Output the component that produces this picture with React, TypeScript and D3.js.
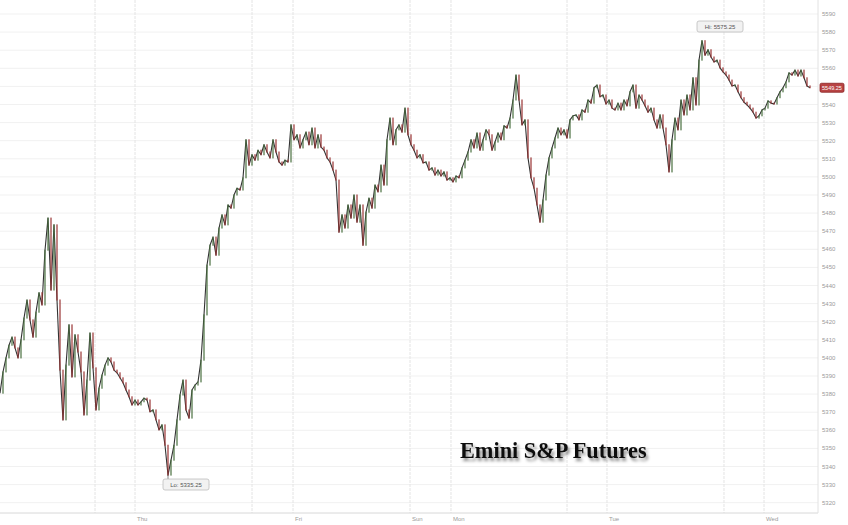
import React from "react";
import * as d3 from "d3";

// Emini S&P futures, ~30-minute closes
const closes: number[] = [
  5380.5, 5392.25, 5400, 5407, 5411.5, 5405.5, 5400, 5410, 5422, 5432,
  5421, 5411.5, 5425.25, 5436, 5429.25, 5459.5, 5477.25, 5437.5, 5473.5, 5432,
  5393.25, 5365.75, 5396, 5418.25, 5389.5, 5412.75, 5403.25, 5392.25, 5368.5, 5387.75,
  5413.75, 5394.5, 5371.25, 5383.25, 5390.5, 5396, 5400, 5397.75, 5393.25, 5391.75,
  5389, 5386.25, 5382.25, 5378.5, 5374, 5376.75, 5374, 5375.75, 5377.75, 5376.75,
  5370.25, 5371.25, 5365.75, 5360.25, 5363, 5351.75, 5335.25, 5343.5, 5351.75, 5365.75,
  5379.5, 5387.75, 5371.25, 5366.75, 5382.25, 5385, 5386.75, 5398.75, 5423.75, 5451.25,
  5462.25, 5466.75, 5456.75, 5471.75, 5479, 5473.5, 5484.5, 5482.75, 5490, 5493.75,
  5492.75, 5499.5, 5520.5, 5506.5, 5512.25, 5509.25, 5514.75, 5512.25, 5517.75, 5513.75,
  5510.5, 5520.5, 5513.75, 5508.25, 5506.5, 5509.25, 5508.25, 5528.75, 5520.5, 5523.25,
  5516, 5520.5, 5524.75, 5517.75, 5527, 5516, 5523.25, 5516.5, 5514.75, 5510.5,
  5508.25, 5503.75, 5498.25, 5469.5, 5479, 5471.75, 5484.5, 5477.25, 5490, 5475,
  5484.5, 5462.25, 5480.5, 5488.25, 5482.75, 5495.5, 5491.75, 5506.5, 5495.5, 5520.5,
  5532.5, 5517.75, 5526, 5528.75, 5524.75, 5538, 5523.25, 5517.75, 5514.75, 5510.5,
  5512.25, 5507.75, 5508.25, 5503.75, 5505, 5501, 5503.75, 5500.5, 5502.75, 5498.25,
  5499.5, 5497.25, 5500.5, 5499.5, 5505, 5509.25, 5513.75, 5520.5, 5516, 5524.25,
  5514.75, 5520.5, 5526, 5523.25, 5514.75, 5519.25, 5524.25, 5520.5, 5528.25, 5527,
  5532.5, 5542.5, 5556.25, 5542.5, 5528.75, 5531.5, 5510.5, 5499.5, 5493.75, 5484.5,
  5475, 5487.25, 5501, 5510.5, 5516, 5521.5, 5527, 5523.25, 5526, 5521.5,
  5531.5, 5533.75, 5534.25, 5531.5, 5537, 5535.75, 5542.5, 5540.75, 5549.25, 5550.75,
  5544.25, 5545.25, 5540.25, 5542.5, 5538, 5537, 5540.75, 5537, 5542.5, 5539.25,
  5547, 5550.75, 5538, 5545.25, 5542.5, 5539.25, 5535.75, 5538, 5531.5, 5527,
  5534.25, 5527, 5517.75, 5502.75, 5520.5, 5532.5, 5526, 5542.5, 5534.25, 5545.25,
  5537, 5554.75, 5539.75, 5564.5, 5575.25, 5567.25, 5570.25, 5566.25, 5563.5, 5564.5,
  5560.25, 5558, 5556.25, 5553.5, 5550.25, 5550.75, 5547, 5543.75, 5541.25, 5539.75,
  5538, 5535.75, 5532.5, 5533.75, 5537, 5538, 5542, 5540.75, 5540.25, 5543.75,
  5547, 5549.25, 5552.5, 5557.5, 5556.25, 5559, 5555.75, 5559, 5554.75, 5550.25,
  5549.25,
];

// Session boundaries (bar index) and day labels
const sessionOpens: number[] = [31.67, 84, 136.67, 189, 241.33];
const dayStarts: number[] = [45, 97.67, 150.33, 202.33, 254.67];
const dayLabelPos: number[] = [45, 97.67, 136.67, 150.33, 202.33, 254.67];
const dayLabels: string[] = ["Thu", "Fri", "Sun", "Mon", "Tue", "Wed"];

const yTicks: number[] = d3.range(5320, 5591, 10);
const hiValue = 5575.25;
const loValue = 5335.25;
const lastLabel = "5549.25";

const W = 848;
const H = 525;
const UP = "#4a7040";
const DOWN = "#9a3434";

export default function App() {
  const x = d3.scaleLinear().domain([0, closes.length - 1]).range([0, 810]);
  const y = d3.scaleLinear().domain([5320, 5590]).range([502.7, 14]);
  const axisX = 818;
  const axisY = 513;

  const hiIdx = closes.indexOf(d3.max(closes) as number);
  const loIdx = closes.indexOf(d3.min(closes) as number);
  const last = closes[closes.length - 1];

  const line = d3
    .line<number>()
    .x((_, i) => x(i))
    .y((d) => y(d));

  return (
    <svg
      width={W}
      height={H}
      style={{ position: "fixed", left: 0, top: 0, background: "#fff" }}
      fontFamily="Liberation Sans, Arial, sans-serif"
    >
      <defs>
        <filter id="sh" x="-10%" y="-30%" width="130%" height="180%">
          <feDropShadow dx="2" dy="3" stdDeviation="1.6" floodColor="#000" floodOpacity="0.45" />
        </filter>
      </defs>
      <rect width={W} height={H} fill="#fff" />
      {/* horizontal grid */}
      {yTicks.map((t) => (
        <line key={"h" + t} x1={0} x2={axisX} y1={y(t)} y2={y(t)} stroke="#f1f1f1" strokeWidth={1} />
      ))}
      {/* vertical grid */}
      {[...sessionOpens, ...dayStarts].map((d, i) => (
        <line key={"v" + i} x1={x(d)} x2={x(d)} y1={0} y2={axisY} stroke="#e4e4e4" strokeWidth={1} strokeDasharray="3,1" />
      ))}
      {/* axes */}
      <line x1={0} x2={axisX} y1={axisY} y2={axisY} stroke="#d8d8d8" />
      <line x1={axisX} x2={axisX} y1={0} y2={axisY} stroke="#e2e2e2" />
      {yTicks
        .filter((t) => Math.abs(y(t) - y(last)) > 6)
        .map((t) => (
          <text key={"yl" + t} x={822} y={y(t) + 2} fontSize={6} fill="#9a9a9a">
            {t}
          </text>
        ))}
      {dayLabels.map((l, i) => (
        <text key={"xl" + l} x={x(dayLabelPos[i]) + 2} y={521} fontSize={6} fill="#9a9a9a">
          {l}
        </text>
      ))}
      {/* price line */}
      <path d={line(closes) || ""} fill="none" stroke="#333" strokeWidth={1.1} strokeLinejoin="round" />
      {closes.map((c, i) => {
        if (i === 0) return null;
        const o = closes[i - 1];
        const top = y(Math.max(o, c));
        const bot = y(Math.min(o, c));
        return (
          <rect
            key={"c" + i}
            x={x(i) - 0.8}
            y={top - 0.5}
            width={1.6}
            height={Math.max(1.2, bot - top + 1)}
            fill={c >= o ? UP : DOWN}
            opacity={0.75}
          />
        );
      })}
      {/* Hi label */}
      <g>
        <rect x={x(hiIdx) - 5} y={21} width={46} height={11} rx={2} fill="#f2f2f2" stroke="#bdbdbd" strokeWidth={0.8} />
        <text x={x(hiIdx) + 18} y={29} fontSize={6} fill="#555" textAnchor="middle">
          Hi: {hiValue.toFixed(2)}
        </text>
      </g>
      {/* Lo label */}
      <g>
        <line x1={x(loIdx)} x2={x(loIdx)} y1={y(loValue)} y2={479} stroke="#666" strokeWidth={0.8} />
        <rect x={x(loIdx) - 5} y={479} width={46} height={11} rx={2} fill="#f2f2f2" stroke="#bdbdbd" strokeWidth={0.8} />
        <text x={x(loIdx) + 18} y={487} fontSize={6} fill="#555" textAnchor="middle">
          Lo: {loValue.toFixed(2)}
        </text>
      </g>
      {/* last price */}
      <rect x={820} y={y(last) - 4.5} width={24} height={9} rx={1.5} fill="#b84444" stroke="#8a2525" strokeWidth={0.8} />
      <text x={832} y={y(last) + 2} fontSize={5.5} fill="#fff" textAnchor="middle">
        {lastLabel}
      </text>
      {/* title */}
      <text
        x={460}
        y={458}
        fontFamily="Liberation Serif, Times New Roman, serif"
        fontWeight="bold"
        fontSize={22.3}
        fill="#111"
        filter="url(#sh)"
      >
        Emini S&amp;P Futures
      </text>
    </svg>
  );
}
